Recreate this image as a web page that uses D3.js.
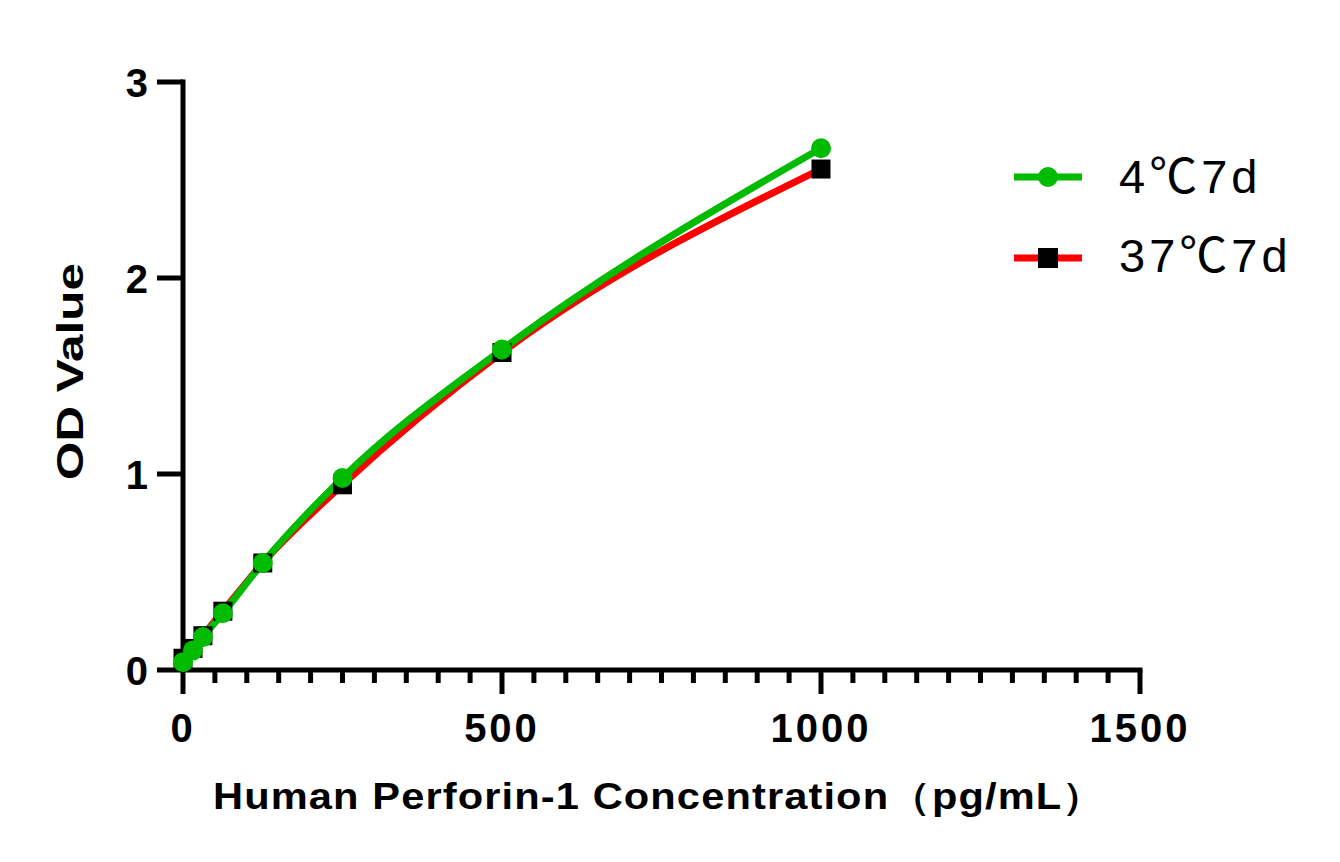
<!DOCTYPE html>
<html><head><meta charset="utf-8">
<script src="https://cdn.jsdelivr.net/npm/d3@7"></script>
<style>body{margin:0;background:#fff;} svg{display:block;}</style>
</head><body>
<svg id="c" width="1340" height="862"></svg>
<script>
const concentrations = [0, 15.625, 31.25, 62.5, 125, 250, 500, 1000];
const od4C = [0.04, 0.10, 0.168, 0.29, 0.546, 0.98, 1.635, 2.662];
const od37C = [0.06, 0.11, 0.175, 0.30, 0.546, 0.945, 1.62, 2.556];
const seriesNames = [["4", "℃", "7d"], ["37", "℃", "7d"]];
const xTicks = [0, 500, 1000, 1500];
const yTicks = [0, 1, 2, 3];
const xLabel = "Human Perforin-1 Concentration（pg/mL）";
const yLabel = "OD Value";

const svg = d3.select("#c");
const x = d3.scaleLinear().domain([0, 1500]).range([183, 1140]);
const y = d3.scaleLinear().domain([0, 3]).range([670, 82]);
const font = "'Liberation Sans', Arial, sans-serif";

// minor x ticks
const minor = d3.range(50, 1500, 50).filter(v => v % 500 !== 0);
svg.append("g").selectAll("line").data(minor).join("line")
  .attr("x1", d => x(d)).attr("x2", d => x(d))
  .attr("y1", y(0)).attr("y2", y(0) + 13)
  .attr("stroke", "#000").attr("stroke-width", 5);
svg.append("g").selectAll("line").data(xTicks).join("line")
  .attr("x1", d => x(d)).attr("x2", d => x(d))
  .attr("y1", y(0)).attr("y2", y(0) + 24)
  .attr("stroke", "#000").attr("stroke-width", 5);
svg.append("g").selectAll("line").data(yTicks).join("line")
  .attr("x1", x(0) - 26).attr("x2", x(0))
  .attr("y1", d => y(d)).attr("y2", d => y(d))
  .attr("stroke", "#000").attr("stroke-width", 5);
// axis lines
svg.append("line").attr("x1", x(0)).attr("x2", x(0)).attr("y1", y(3) - 2.5).attr("y2", y(0) + 2.5)
  .attr("stroke", "#000").attr("stroke-width", 5);
svg.append("line").attr("x1", x(0) - 2.5).attr("x2", x(1500) + 2.5).attr("y1", y(0)).attr("y2", y(0))
  .attr("stroke", "#000").attr("stroke-width", 5);

// tick labels
svg.append("g").selectAll("text").data(xTicks).join("text")
  .attr("x", d => x(d)).attr("y", 742).attr("text-anchor", "middle")
  .attr("font-family", font).attr("font-weight", "bold").attr("font-size", 40)
  .attr("letter-spacing", 3)
  .text(d => d);
svg.append("g").selectAll("text").data(yTicks).join("text")
  .attr("x", 148).attr("y", d => y(d) + 15).attr("text-anchor", "end")
  .attr("font-family", font).attr("font-weight", "bold").attr("font-size", 40)
  .text(d => d);

// axis titles
svg.append("text").attr("x", 213).attr("y", 809)
  .attr("font-family", font).attr("font-weight", "bold").attr("font-size", 37)
  .attr("letter-spacing", 1)
  .attr("textLength", 892).attr("lengthAdjust", "spacingAndGlyphs")
  .text(xLabel);
svg.append("text").attr("transform", "translate(83,480) rotate(-90)")
  .attr("font-family", font).attr("font-weight", "bold").attr("font-size", 36)
  .attr("textLength", 217).attr("lengthAdjust", "spacingAndGlyphs")
  .text(yLabel);

// lines
const pts = vals => concentrations.map((c, i) => [c, vals[i]]);
const line = d3.line().x(d => x(d[0])).y(d => y(d[1])).curve(d3.curveMonotoneX);
svg.append("path").attr("d", line(pts(od37C))).attr("fill", "none")
  .attr("stroke", "#ff0000").attr("stroke-width", 7);
svg.append("path").attr("d", line(pts(od4C))).attr("fill", "none")
  .attr("stroke", "#00bb00").attr("stroke-width", 7);

// markers
svg.append("g").selectAll("rect").data(pts(od37C)).join("rect")
  .attr("x", d => x(d[0]) - 9.5).attr("y", d => y(d[1]) - 9.5)
  .attr("width", 19).attr("height", 19).attr("fill", "#000");
svg.append("g").selectAll("circle").data(pts(od4C)).join("circle")
  .attr("cx", d => x(d[0])).attr("cy", d => y(d[1])).attr("r", 10).attr("fill", "#00bb00");

// legend
const leg = [{name: seriesNames[0], color: "#00bb00", shape: "circle", y: 177, ty: 193},
             {name: seriesNames[1], color: "#ff0000", shape: "rect", y: 258, ty: 272}];
const lg = svg.append("g").selectAll("g").data(leg).join("g");
lg.append("line").attr("x1", 1014).attr("x2", 1082).attr("y1", d => d.y).attr("y2", d => d.y)
  .attr("stroke", d => d.color).attr("stroke-width", 7);
lg.filter(d => d.shape === "circle").append("circle").attr("cx", 1048).attr("cy", d => d.y).attr("r", 10).attr("fill", "#00bb00");
lg.filter(d => d.shape === "rect").append("rect").attr("x", 1038).attr("y", d => d.y - 10).attr("width", 20).attr("height", 20).attr("fill", "#000");
const lt = lg.append("text").attr("x", 1119).attr("y", d => d.ty)
  .attr("font-family", font).attr("font-size", 47).attr("letter-spacing", 4);
lt.append("tspan").text(d => d.name[0]);
lt.append("tspan").attr("font-family", "'Noto Sans CJK SC', sans-serif").attr("font-size", 48).text(d => d.name[1]);
lt.append("tspan").text(d => d.name[2]);
</script>
</body></html>
